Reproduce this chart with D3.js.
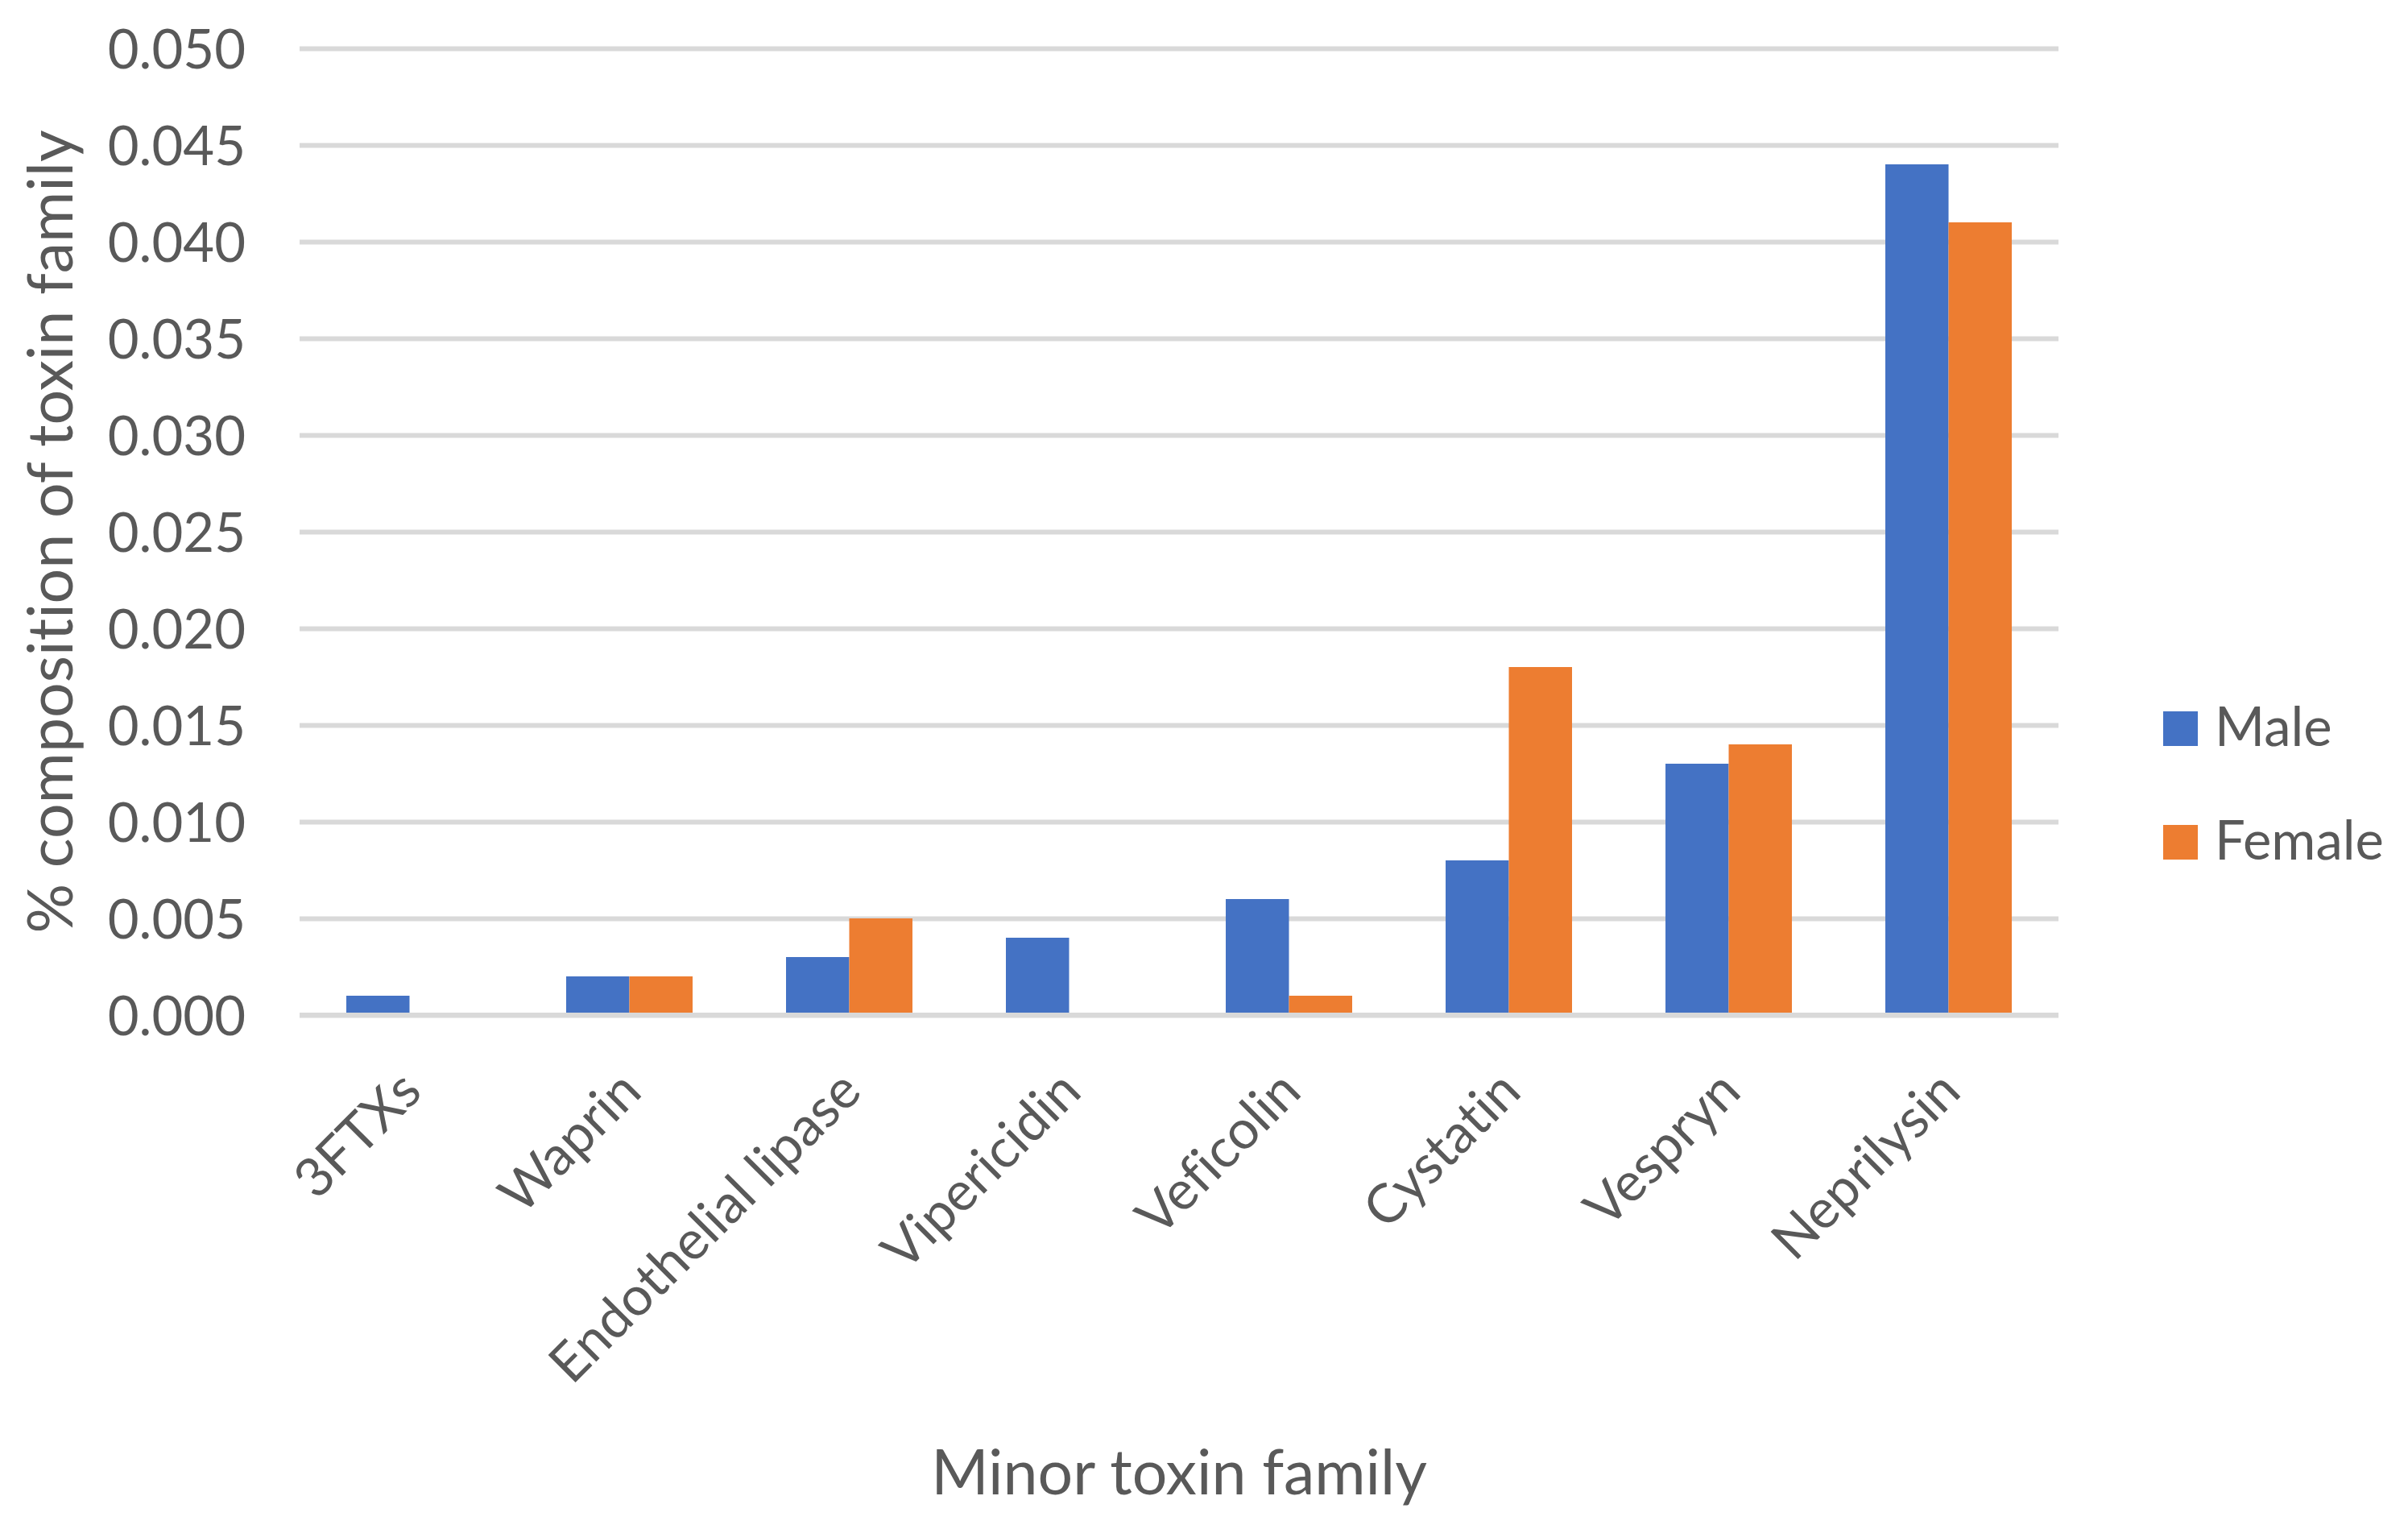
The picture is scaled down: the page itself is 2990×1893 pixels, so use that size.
<!DOCTYPE html>
<html>
<head>
<meta charset="utf-8">
<script src="https://cdn.jsdelivr.net/npm/d3@7/dist/d3.min.js"></script>
<style>
  html, body { margin: 0; padding: 0; background: #ffffff; }
  svg { display: block; }
  text { font-family: Lato, "Open Sans", sans-serif; fill: #595959; font-variant-ligatures: none; font-feature-settings: "liga" 0; }
</style>
</head>
<body>
<svg id="chart" width="2990" height="1893"></svg>
<script>
// ---- data ----
const categories = ["3FTXs", "Waprin", "Endothelial lipase", "Vipericidin", "Veficolin", "Cystatin", "Vespryn", "Neprilysin"];
const seriesNames = ["Male", "Female"];
const maleValues = [0.001, 0.002, 0.003, 0.004, 0.006, 0.008, 0.013, 0.044];
const femaleValues = [0.000, 0.002, 0.005, 0.000, 0.001, 0.018, 0.014, 0.041];
const yTickValues = [0, 0.005, 0.010, 0.015, 0.020, 0.025, 0.030, 0.035, 0.040, 0.045, 0.050];
const xAxisTitle = "Minor toxin family";
const yAxisTitle = "% composition of toxin family";
const colors = ["#4472C4", "#ED7D31"];

// ---- layout ----
const W = 2990, H = 1893;
const plot = { left: 372, right: 2556, top: 60, bottom: 1260 };

const svg = d3.select("#chart");

const x = d3.scaleBand()
  .domain(categories)
  .range([plot.left, plot.right])
  .paddingInner(0.425)
  .paddingOuter(0.2125);

const xs = d3.scaleBand()
  .domain(seriesNames)
  .range([0, x.bandwidth()]);

const y = d3.scaleLinear()
  .domain([0, 0.05])
  .range([plot.bottom, plot.top]);

const color = d3.scaleOrdinal().domain(seriesNames).range(colors);

// gridlines
const grid = svg.append("g")
  .attr("transform", `translate(${plot.left},0)`)
  .call(d3.axisLeft(y).tickValues(yTickValues).tickSize(-(plot.right - plot.left)).tickFormat(""));
grid.select(".domain").remove();
grid.selectAll(".tick line").attr("stroke", "#D9D9D9").attr("stroke-width", 6);

// y tick labels
const yAxis = svg.append("g")
  .attr("transform", `translate(${plot.left - 67},0)`)
  .call(d3.axisLeft(y).tickValues(yTickValues).tickSize(0).tickPadding(0).tickFormat(d3.format(".3f")));
yAxis.select(".domain").remove();
yAxis.selectAll(".tick text")
  .attr("font-size", 67)
  .attr("font-family", "Lato, 'Open Sans', sans-serif")
  .attr("fill", "#595959")
  .attr("dy", "0.36em");

// bars
const rows = categories.map((c, i) => ({ cat: c, vals: [
  { s: seriesNames[0], v: maleValues[i] },
  { s: seriesNames[1], v: femaleValues[i] }
]}));

const groups = svg.append("g").selectAll("g")
  .data(rows)
  .join("g")
  .attr("transform", d => `translate(${x(d.cat)},0)`);

groups.selectAll("rect")
  .data(d => d.vals.filter(e => e.v > 0))
  .join("rect")
  .attr("x", d => xs(d.s))
  .attr("width", xs.bandwidth())
  .attr("y", d => y(d.v))
  .attr("height", d => y(0) - 3 - y(d.v))
  .attr("fill", d => color(d.s));

// zero axis line on top
svg.append("line")
  .attr("x1", plot.left).attr("x2", plot.right)
  .attr("y1", y(0)).attr("y2", y(0))
  .attr("stroke", "#D9D9D9").attr("stroke-width", 6);

// x category labels (rotated)
const xAxis = svg.append("g")
  .attr("transform", `translate(0,${plot.bottom})`)
  .call(d3.axisBottom(x).tickSize(0).tickPadding(0));
xAxis.select(".domain").remove();
xAxis.selectAll(".tick text")
  .attr("font-size", 67)
  .attr("font-family", "Lato, 'Open Sans', sans-serif")
  .attr("fill", "#595959")
  .attr("text-anchor", "end")
  .attr("dy", 0)
  .attr("y", 0)
  .attr("transform", "translate(18,98) rotate(-45)");

// axis titles
svg.append("text")
  .attr("x", (plot.left + plot.right) / 2)
  .attr("y", 1855)
  .attr("text-anchor", "middle")
  .attr("font-size", 77)
  .text(xAxisTitle);

svg.append("text")
  .attr("transform", `translate(90,${(plot.top + plot.bottom) / 2}) rotate(-90)`)
  .attr("text-anchor", "middle")
  .attr("font-size", 77)
  .text(yAxisTitle);

// legend
const legend = svg.append("g");
const legendY = [926, 1067];
seriesNames.forEach((s, i) => {
  legend.append("rect")
    .attr("x", 2686).attr("y", legendY[i] - 43)
    .attr("width", 43).attr("height", 43)
    .attr("fill", color(s));
  legend.append("text")
    .attr("x", 2750).attr("y", legendY[i])
    .attr("font-size", 67)
    .text(s);
});
</script>
</body>
</html>
